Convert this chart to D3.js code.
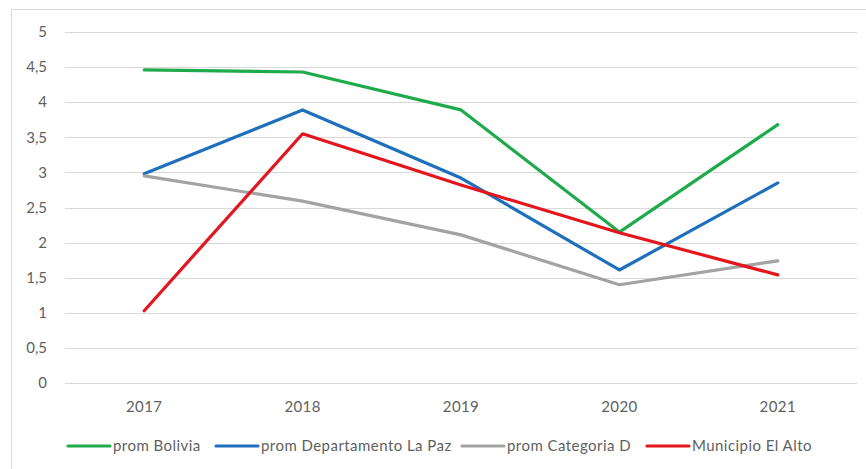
<!DOCTYPE html>
<html>
<head>
<meta charset="utf-8">
<script src="https://cdn.jsdelivr.net/npm/d3@7"></script>
<style>
  body { margin: 0; background: #fff; }
  text { font-family: Lato, "Open Sans", sans-serif; fill: #5f5f5f; }
</style>
</head>
<body>
<script>
// data
const years = ["2017", "2018", "2019", "2020", "2021"];
const promBolivia = [4.46, 4.43, 3.89, 2.15, 3.68];
const promLaPaz = [2.98, 3.89, 2.92, 1.61, 2.85];
const promCategoriaD = [2.95, 2.59, 2.11, 1.40, 1.74];
const municipioElAlto = [1.03, 3.55, 2.82, 2.14, 1.54];
const yTicks = [0, 0.5, 1, 1.5, 2, 2.5, 3, 3.5, 4, 4.5, 5];

const series = [
    { name: "prom Bolivia", values: promBolivia, color: "#1faa4b" },
    { name: "prom Departamento La Paz", values: promLaPaz, color: "#1f6fbd" },
    { name: "prom Categoria D", values: promCategoriaD, color: "#a3a3a3" },
    { name: "Municipio El Alto", values: municipioElAlto, color: "#e3161d" }
];

const width = 866, height = 469;
const plot = { left: 65, right: 857, top: 32, bottom: 383 };

let svg = d3.select("body")
    .append("svg")
    .attr("width", width)
    .attr("height", height);

// chart frame
svg.append("rect")
    .attr("x", 11.5)
    .attr("y", 9.5)
    .attr("width", 900)
    .attr("height", 500)
    .attr("fill", "none")
    .attr("stroke", "#d9d9d9");

let x = d3.scaleBand()
    .domain(years)
    .range([plot.left, plot.right]);

let y = d3.scaleLinear()
    .domain([0, 5])
    .range([plot.bottom, plot.top]);

// gridlines
svg.append("g")
    .selectAll("line")
    .data(yTicks)
    .enter()
    .append("line")
    .attr("x1", plot.left)
    .attr("x2", plot.right)
    .attr("y1", d => Math.round(y(d)) + 0.5)
    .attr("y2", d => Math.round(y(d)) + 0.5)
    .attr("stroke", "#d9d9d9")
    .attr("stroke-width", 1);

// y labels
svg.append("g")
    .selectAll("text")
    .data(yTicks)
    .enter()
    .append("text")
    .attr("x", 47)
    .attr("y", d => y(d))
    .attr("dy", "0.35em")
    .style("text-anchor", "end")
    .style("font-size", "15px")
    .text(d => String(d).replace(".", ","));

// x labels
svg.append("g")
    .selectAll("text")
    .data(years)
    .enter()
    .append("text")
    .attr("x", d => x(d) + x.bandwidth() / 2)
    .attr("y", 407)
    .attr("dy", "0.35em")
    .style("text-anchor", "middle")
    .style("font-size", "15px")
    .style("letter-spacing", "0.4px")
    .text(d => d);

let line = d3.line()
    .x((d, i) => x(years[i]) + x.bandwidth() / 2)
    .y(d => y(d));

svg.append("g")
    .selectAll("path")
    .data(series)
    .enter()
    .append("path")
    .attr("d", d => line(d.values))
    .attr("fill", "none")
    .attr("stroke", d => d.color)
    .attr("stroke-width", 3.2)
    .attr("stroke-linejoin", "round")
    .attr("stroke-linecap", "round");

// legend
const legendX = [68, 216, 462, 647];
let legend = svg.append("g")
    .selectAll("g")
    .data(series)
    .enter()
    .append("g")
    .attr("transform", (d, i) => `translate(${legendX[i]}, 446)`);

legend.append("line")
    .attr("x1", 0)
    .attr("x2", 42)
    .attr("stroke", d => d.color)
    .attr("stroke-width", 3.2)
    .attr("stroke-linecap", "round");

legend.append("text")
    .attr("x", 45)
    .attr("dy", "0.35em")
    .style("font-size", "15px")
    .style("letter-spacing", "0.45px")
    .text(d => d.name);
</script>
</body>
</html>
